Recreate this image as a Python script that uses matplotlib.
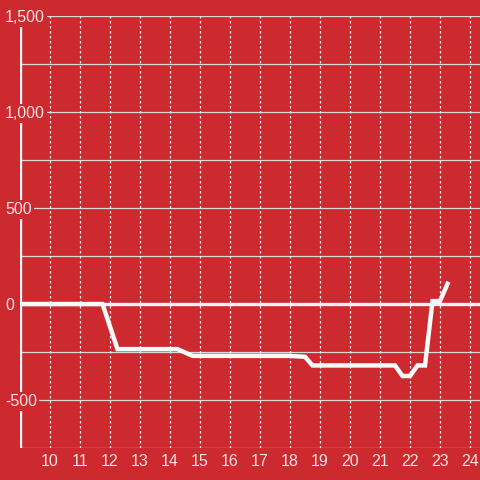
import matplotlib.pyplot as plt
import numpy as np

plt.rcParams['font.family'] = ['Liberation Sans', 'DejaVu Sans']

# hours and cumulative value
hours = [9, 11.75, 12.25, 14.25, 14.75, 18.0, 18.5, 18.75, 21.5, 21.75, 22.0, 22.25, 22.5, 22.75, 23.0, 23.25]
values = [0, 0, -235, -235, -270, -270, -275, -320, -320, -375, -375, -320, -320, 15, 15, 105]

x_ticks = list(range(10, 25))
y_grid = list(range(-750, 1501, 250))
y_labels = [-500, 0, 500, 1000, 1500]

bg = '#cc2a2f'
txt = '#f6e4e4'

fig = plt.figure(figsize=(4.8, 4.8), dpi=100, facecolor=bg)
ax = fig.add_axes([20/480, 32/480, 460/480, 432/480], facecolor=bg)
ax.set_xlim(9, 24.333)
ax.set_ylim(-750, 1500)

for s in ax.spines.values():
    s.set_visible(False)

# grid
for yv in y_grid:
    ax.axhline(yv, color='#d9d9d9', lw=0.9, zorder=1)
for xv in x_ticks:
    ax.axvline(xv, color='#eeeeee', lw=0.9, ls=(0, (2, 2)), zorder=1)

# zero line and left axis
ax.axhline(0, color='#f4f4f4', lw=2.4, zorder=2)
ax.axvline(9, color='#f4f4f4', lw=2.4, zorder=2)

ax.plot(hours, values, color='#fbfbfb', lw=3.2, zorder=4, solid_joinstyle='miter')

ax.set_xticks(x_ticks)
ax.set_xticklabels([str(v) for v in x_ticks])
ax.tick_params(axis='x', length=0, pad=4.5, labelsize=11.5, labelcolor=txt)
ax.set_yticks([])

for yv in y_labels:
    ax.text(-15/460, yv - 8, f'{yv:,}', transform=ax.get_yaxis_transform(),
            ha='left', va='center', fontsize=11.5, color=txt, zorder=5,
            bbox=dict(facecolor=bg, edgecolor='none', pad=1.5), clip_on=False)

fig.savefig('out.png', dpi=100, facecolor=bg)
